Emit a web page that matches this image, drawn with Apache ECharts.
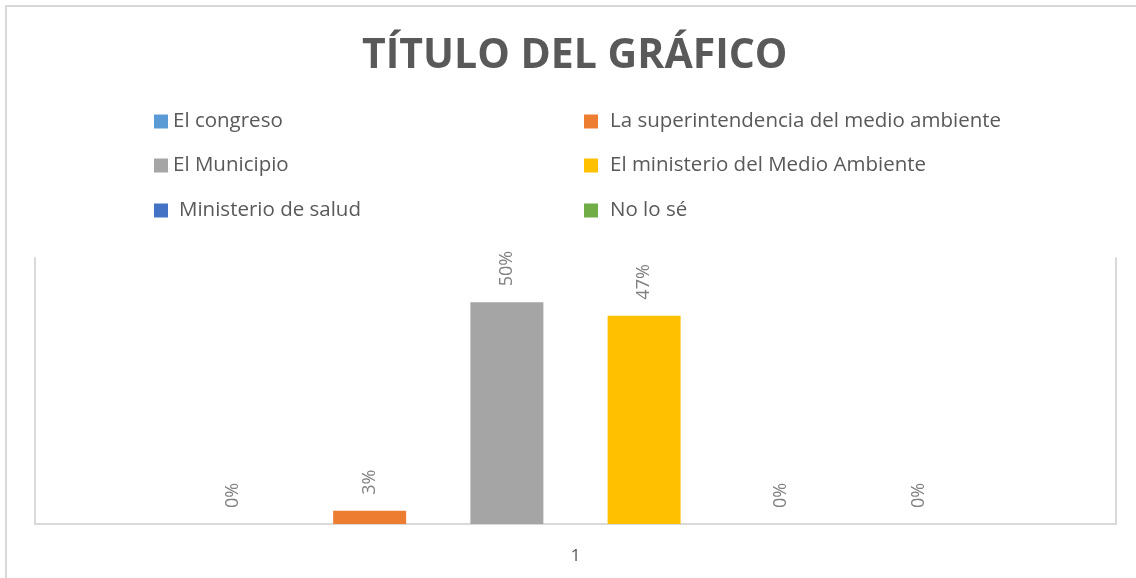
<!DOCTYPE html>
<html>
<head>
<meta charset="utf-8">
<script src="https://cdn.jsdelivr.net/npm/echarts@6/dist/echarts.min.js"></script>
<style>
  html, body { margin: 0; padding: 0; background: #fff; }
  #chart { width: 1136px; height: 578px; }
</style>
</head>
<body>
<div id="chart"></div>
<script>
var categories = ['1'];
var seriesNames = [
    'El congreso',
    'La superintendencia del medio ambiente',
    'El Municipio',
    'El ministerio del Medio Ambiente',
    'Ministerio de salud',
    'No lo sé'
];
var seriesValues = [0, 3, 50, 47, 0, 0];
var seriesColors = ['#5B9BD5', '#ED7D31', '#A5A5A5', '#FFC000', '#4472C4', '#70AD47'];

// legend layout: two columns, three rows
var legendSpots = [
    [154, 111], [584, 111],
    [154, 155], [584, 155],
    [154, 200], [584, 200]
];
// extra space between marker and text
var legendTextPad = [0, 7, 0, 7, 6, 7];

var chart = echarts.init(document.getElementById('chart'));

var legends = seriesNames.map(function (name, i) {
    return {
        data: [name],
        left: legendSpots[i][0],
        top: legendSpots[i][1],
        padding: 0,
        icon: 'rect',
        itemWidth: 14,
        itemHeight: 14,
        selectedMode: false,
        textStyle: {
            color: '#595959',
            fontSize: 20.5,
            fontFamily: 'Open Sans',
            padding: [0, 0, 0, legendTextPad[i]]
        }
    };
});

var series = seriesNames.map(function (name, i) {
    return {
        name: name,
        type: 'bar',
        data: [seriesValues[i]],
        barWidth: 73,
        barGap: '88%',
        itemStyle: { color: seriesColors[i] },
        label: {
            show: true,
            position: 'top',
            rotate: 90,
            align: 'left',
            verticalAlign: 'middle',
            distance: 16,
            formatter: '{c}%',
            color: '#808080',
            fontSize: 18,
            fontFamily: 'Open Sans'
        }
    };
});

var option = {
    animation: false,
    title: {
        text: 'TÍTULO DEL GRÁFICO',
        left: 362,
        top: 36,
        padding: 0,
        textStyle: {
            color: '#595959',
            fontSize: 41,
            fontWeight: 'bold',
            fontFamily: 'Open Sans'
        }
    },
    legend: legends,
    grid: {
        left: 35,
        right: 20,
        top: 258,
        bottom: 54
    },
    xAxis: {
        type: 'category',
        data: categories,
        axisLine: { lineStyle: { color: '#d9d9d9', width: 2 } },
        axisTick: { show: false },
        axisLabel: {
            color: '#595959',
            fontSize: 17,
            fontFamily: 'Open Sans',
            margin: 24
        }
    },
    yAxis: [
        {
            type: 'value',
            min: 0,
            max: 60,
            position: 'left',
            axisLine: { show: true, lineStyle: { color: '#d9d9d9', width: 2 } },
            axisTick: { show: false },
            axisLabel: { show: false },
            splitLine: { show: false }
        },
        {
            type: 'value',
            min: 0,
            max: 60,
            position: 'right',
            axisLine: { show: true, lineStyle: { color: '#d9d9d9', width: 2 } },
            axisTick: { show: false },
            axisLabel: { show: false },
            splitLine: { show: false }
        }
    ],
    graphic: [
        {
            type: 'polyline',
            shape: { points: [[6, 578], [6, 6], [1136, 6]] },
            style: { stroke: '#d9d9d9', lineWidth: 2, fill: null }
        }
    ],
    series: series
};

chart.setOption(option);
</script>
</body>
</html>
